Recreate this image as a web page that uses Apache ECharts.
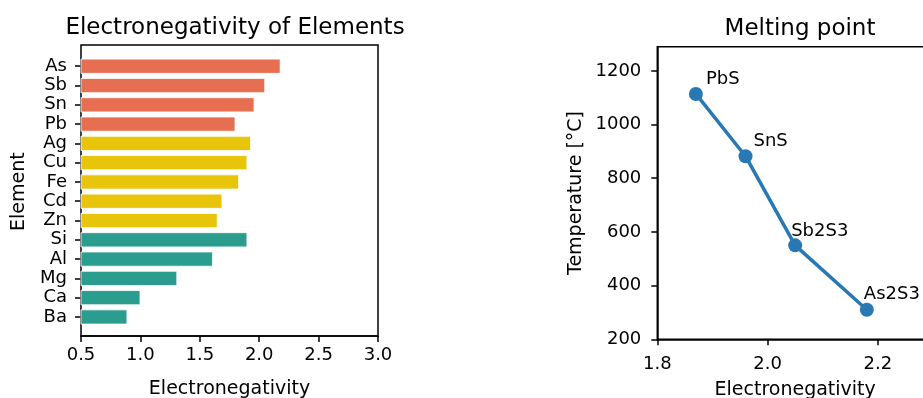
<!DOCTYPE html>
<html>
<head>
<meta charset="utf-8">
<script src="https://cdn.jsdelivr.net/npm/echarts@6/dist/echarts.min.js"></script>
<style>
  html, body { margin: 0; padding: 0; background: #fff; }
  #chart { width: 923px; height: 398px; }
</style>
</head>
<body>
<div id="chart"></div>
<script>
// Left panel: electronegativity per element
const elements = ['As', 'Sb', 'Sn', 'Pb', 'Ag', 'Cu', 'Fe', 'Cd', 'Zn', 'Si', 'Al', 'Mg', 'Ca', 'Ba'];
const electronegativity = [2.18, 2.05, 1.96, 1.80, 1.93, 1.90, 1.83, 1.69, 1.65, 1.90, 1.61, 1.31, 1.00, 0.89];
const elementGroup = [0, 0, 0, 0, 1, 1, 1, 1, 1, 2, 2, 2, 2, 2];
const enTicks = [0.5, 1.0, 1.5, 2.0, 2.5, 3.0];

// Right panel: melting point of sulfides vs. electronegativity of the metal
const sulfides = ['PbS', 'SnS', 'Sb2S3', 'As2S3'];
const sulfideEN = [1.87, 1.96, 2.05, 2.18];
const meltingPoint = [1114, 882, 550, 310];
const mpEnTicks = [1.8, 2.0, 2.2];
const tempTicks = [200, 400, 600, 800, 1000, 1200];

const FONT = 'DejaVu Sans';
const groupColors = ['#e76f51', '#e8c40a', '#2a9d8f'];
const labelShift = [[10, -15], [8, -15], [-4, -14], [-3, -15]];

const chart = echarts.init(document.getElementById('chart'), null, { renderer: 'canvas' });

const axisLineStyle = { color: '#000', width: 1.5 };
const tickStyle = { color: '#000', width: 1.5 };

chart.setOption({
  animation: false,
  textStyle: { fontFamily: FONT, color: '#000' },
  title: [
    { text: 'Electronegativity of Elements', left: 230, top: 12, textAlign: 'center',
      textStyle: { fontFamily: FONT, fontSize: 23, fontWeight: 'normal', color: '#000' } },
    { text: 'Melting point', left: 795, top: 13, textAlign: 'center',
      textStyle: { fontFamily: FONT, fontSize: 23, fontWeight: 'normal', color: '#000' } }
  ],
  grid: [
    // frame of the bar panel
    { left: 81, top: 45, width: 297, height: 291, show: true, borderColor: '#000', borderWidth: 1.5,
      containLabel: false, outerBoundsMode: 'none' },
    // band area holding the bars
    { left: 81, top: 56.6, width: 297, height: 270, containLabel: false, outerBoundsMode: 'none' },
    // melting point panel
    { left: 657.3, top: 46.7, right: -10, height: 292.6, show: true, borderColor: '#000', borderWidth: 1.5,
      containLabel: false, outerBoundsMode: 'none' }
  ],
  xAxis: [
    { gridIndex: 0, type: 'value', min: 0.5, max: 3.0,
      axisLine: { show: true, lineStyle: axisLineStyle },
      axisTick: { show: true, length: 6, lineStyle: tickStyle, customValues: enTicks },
      axisLabel: { margin: 10, fontSize: 18, fontFamily: FONT, color: '#000', customValues: enTicks,
        formatter: v => v.toFixed(1) },
      splitLine: { show: false },
      name: 'Electronegativity', nameLocation: 'middle', nameGap: 44,
      nameTextStyle: { fontFamily: FONT, fontSize: 19, color: '#000' } },
    { gridIndex: 1, type: 'value', min: 0.5, max: 3.0, show: false },
    { gridIndex: 2, type: 'value', min: 1.8, max: 2.3,
      axisLine: { show: true, lineStyle: axisLineStyle },
      axisTick: { show: true, length: 6, lineStyle: tickStyle, customValues: mpEnTicks },
      axisLabel: { margin: 16, fontSize: 18, fontFamily: FONT, color: '#000', customValues: mpEnTicks,
        formatter: v => v.toFixed(1) },
      splitLine: { show: false },
      name: 'Electronegativity', nameLocation: 'middle', nameGap: 41,
      nameTextStyle: { fontFamily: FONT, fontSize: 19, color: '#000' } }
  ],
  yAxis: [
    { gridIndex: 0, type: 'value', show: false },
    { gridIndex: 1, type: 'category', data: elements, inverse: true,
      axisLine: { show: false },
      axisTick: { show: true, alignWithLabel: true, interval: 0, length: 6, lineStyle: tickStyle },
      axisLabel: { interval: 0, margin: 14, fontSize: 18, fontFamily: FONT, color: '#000' },
      name: 'Element', nameLocation: 'middle', nameGap: 52,
      nameTextStyle: { fontFamily: FONT, fontSize: 19, color: '#000' } },
    { gridIndex: 2, type: 'value', min: 200, max: 1290,
      axisLine: { show: true, lineStyle: axisLineStyle },
      axisTick: { show: true, length: 6, lineStyle: tickStyle, customValues: tempTicks },
      axisLabel: { margin: 16, fontSize: 18, fontFamily: FONT, color: '#000', customValues: tempTicks,
        formatter: v => String(Math.round(v)) },
      splitLine: { show: false },
      name: 'Temperature [°C]', nameLocation: 'middle', nameGap: 72,
      nameTextStyle: { fontFamily: FONT, fontSize: 19, color: '#000' } }
  ],
  series: [
    {
      type: 'bar',
      xAxisIndex: 1,
      yAxisIndex: 1,
      clip: true,
      barCategoryGap: '22%',
      data: electronegativity.map((v, i) => ({
        value: v,
        itemStyle: { color: groupColors[elementGroup[i]], borderColor: '#fff', borderWidth: 0.8 }
      }))
    },
    {
      type: 'line',
      xAxisIndex: 2,
      yAxisIndex: 2,
      symbol: 'circle',
      symbolSize: 14,
      lineStyle: { color: '#2878b4', width: 3.5 },
      itemStyle: { color: '#2878b4' },
      data: sulfideEN.map((x, i) => ({
        value: [x, meltingPoint[i]],
        name: sulfides[i],
        label: {
          show: true,
          formatter: sulfides[i],
          position: 'inside',
          align: 'left',
          verticalAlign: 'middle',
          offset: labelShift[i],
          fontFamily: FONT,
          fontSize: 18,
          color: '#000'
        }
      }))
    }
  ]
});
</script>
</body>
</html>
